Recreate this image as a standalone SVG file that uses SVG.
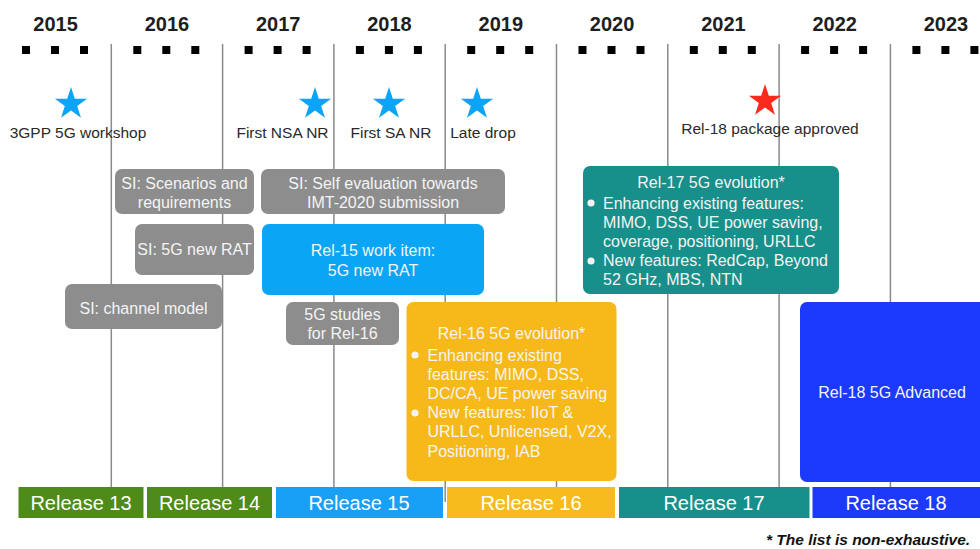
<svg xmlns="http://www.w3.org/2000/svg" xmlns:xlink="http://www.w3.org/1999/xlink" width="980" height="549" viewBox="0 0 980 549">
<style>
.yr{font-family:"Liberation Sans",Arial,sans-serif;font-weight:bold;font-size:20px;fill:#1e1e1e;text-anchor:middle}
.ms{font-family:"Liberation Sans",Arial,sans-serif;font-size:15.5px;fill:#2a2a2a;text-anchor:middle}
.bx{font-family:"Liberation Sans",Arial,sans-serif;font-size:16px;fill:#f4f4f4;text-anchor:middle}
.bl{font-family:"Liberation Sans",Arial,sans-serif;font-size:16px;fill:#f4f4f4}
.rl{font-family:"Liberation Sans",Arial,sans-serif;font-size:20px;fill:#ffffff;text-anchor:middle}
.fn{font-family:"Liberation Sans",Arial,sans-serif;font-size:15.5px;font-weight:bold;font-style:italic;fill:#111}
.vl{stroke:#8a8a8a;stroke-width:1.5}
.gray{fill:#8d8d8d}
.dot{fill:#000}
</style>
<defs>
<path id="star" d="M0,-17 L3.82,-5.26 L16.17,-5.25 L6.18,2.01 L9.99,13.75 L0,6.5 L-9.99,13.75 L-6.18,2.01 L-16.17,-5.25 L-3.82,-5.26 Z"/>
</defs>
<rect width="980" height="549" fill="#ffffff"/>

<g id="connectors">
<line class="vl" x1="111.3" y1="44" x2="111.3" y2="502"/>
<line class="vl" x1="222.6" y1="44" x2="222.6" y2="502"/>
<line class="vl" x1="333.9" y1="44" x2="333.9" y2="502"/>
<line class="vl" x1="445.2" y1="44" x2="445.2" y2="502"/>
<line class="vl" x1="556.5" y1="44" x2="556.5" y2="502"/>
<line class="vl" x1="667.8" y1="44" x2="667.8" y2="502"/>
<line class="vl" x1="779.1" y1="44" x2="779.1" y2="502"/>
<line class="vl" x1="890.4" y1="44" x2="890.4" y2="502"/>
</g>

<g id="years">
<text class="yr" x="55.6" y="31">2015</text>
<text class="yr" x="166.9" y="31">2016</text>
<text class="yr" x="278.2" y="31">2017</text>
<text class="yr" x="389.5" y="31">2018</text>
<text class="yr" x="500.8" y="31">2019</text>
<text class="yr" x="612.1" y="31">2020</text>
<text class="yr" x="723.4" y="31">2021</text>
<text class="yr" x="834.7" y="31">2022</text>
<text class="yr" x="946" y="31">2023</text>
</g>

<g id="quarters">
<rect class="dot" x="22" y="46" width="8" height="8"/><rect class="dot" x="51" y="46" width="8" height="8"/><rect class="dot" x="80" y="46" width="8" height="8"/>
<rect class="dot" x="133.3" y="46" width="8" height="8"/><rect class="dot" x="162.3" y="46" width="8" height="8"/><rect class="dot" x="191.3" y="46" width="8" height="8"/>
<rect class="dot" x="244.6" y="46" width="8" height="8"/><rect class="dot" x="273.6" y="46" width="8" height="8"/><rect class="dot" x="302.6" y="46" width="8" height="8"/>
<rect class="dot" x="355.9" y="46" width="8" height="8"/><rect class="dot" x="384.9" y="46" width="8" height="8"/><rect class="dot" x="413.9" y="46" width="8" height="8"/>
<rect class="dot" x="467.2" y="46" width="8" height="8"/><rect class="dot" x="496.2" y="46" width="8" height="8"/><rect class="dot" x="525.2" y="46" width="8" height="8"/>
<rect class="dot" x="578.5" y="46" width="8" height="8"/><rect class="dot" x="607.5" y="46" width="8" height="8"/><rect class="dot" x="636.5" y="46" width="8" height="8"/>
<rect class="dot" x="689.8" y="46" width="8" height="8"/><rect class="dot" x="718.8" y="46" width="8" height="8"/><rect class="dot" x="747.8" y="46" width="8" height="8"/>
<rect class="dot" x="801.1" y="46" width="8" height="8"/><rect class="dot" x="830.1" y="46" width="8" height="8"/><rect class="dot" x="859.1" y="46" width="8" height="8"/>
<rect class="dot" x="912.4" y="46" width="8" height="8"/><rect class="dot" x="941.4" y="46" width="8" height="8"/><rect class="dot" x="970.4" y="46" width="8" height="8"/>
</g>

<g id="milestone-workshop">
<use xlink:href="#star" href="#star" transform="translate(71,104)" fill="#0ba4f6"/>
<text class="ms" x="78" y="138">3GPP 5G workshop</text>
</g>
<g id="milestone-nsa">
<use xlink:href="#star" href="#star" transform="translate(315,104)" fill="#0ba4f6"/>
<text class="ms" x="282.5" y="138">First NSA NR</text>
</g>
<g id="milestone-sa">
<use xlink:href="#star" href="#star" transform="translate(389,104)" fill="#0ba4f6"/>
<text class="ms" x="391" y="138">First SA NR</text>
</g>
<g id="milestone-late">
<use xlink:href="#star" href="#star" transform="translate(477,104)" fill="#0ba4f6"/>
<text class="ms" x="483" y="138">Late drop</text>
</g>
<g id="milestone-rel18">
<use xlink:href="#star" href="#star" transform="translate(765,101)" fill="#fa2a1c"/>
<text class="ms" x="770" y="134">Rel-18 package approved</text>
</g>

<g id="si-scenarios">
<rect class="gray" x="115" y="169" width="139" height="45" rx="7"/>
<text class="bx" x="184.5" y="188.5">SI: Scenarios and</text>
<text class="bx" x="184.5" y="207.5">requirements</text>
</g>
<g id="si-self-eval">
<rect class="gray" x="261" y="169" width="244" height="45" rx="7"/>
<text class="bx" x="383" y="188.5">SI: Self evaluation towards</text>
<text class="bx" x="383" y="207.5">IMT-2020 submission</text>
</g>
<g id="si-new-rat">
<rect class="gray" x="135" y="224" width="119" height="51" rx="7"/>
<text class="bx" x="194.5" y="255">SI: 5G new RAT</text>
</g>
<g id="rel15-wi">
<rect x="262" y="224" width="222" height="71" rx="7" fill="#0ba5f5"/>
<text class="bx" x="373" y="256">Rel-15 work item:</text>
<text class="bx" x="373" y="276">5G new RAT</text>
</g>
<g id="si-channel">
<rect class="gray" x="65" y="284" width="157" height="45" rx="7"/>
<text class="bx" x="143.5" y="313.5">SI: channel model</text>
</g>
<g id="studies-rel16">
<rect class="gray" x="286" y="302" width="113" height="43" rx="7"/>
<text class="bx" x="342.5" y="319.5">5G studies</text>
<text class="bx" x="342.5" y="338.5">for Rel-16</text>
</g>
<g id="rel16-evo">
<rect x="406.5" y="302" width="210" height="179" rx="7" fill="#f7b91a"/>
<text class="bx" x="511.5" y="338.5">Rel-16 5G evolution*</text>
<circle cx="415" cy="355" r="3.6" fill="#f4f4f4"/>
<text class="bl" x="427.5" y="360.5">Enhancing existing</text>
<text class="bl" x="427.5" y="379.7">features: MIMO, DSS,</text>
<text class="bl" x="427.5" y="398.9">DC/CA, UE power saving</text>
<circle cx="415" cy="413" r="3.6" fill="#f4f4f4"/>
<text class="bl" x="427.5" y="418.1">New features: IIoT &amp;</text>
<text class="bl" x="427.5" y="437.3">URLLC, Unlicensed, V2X,</text>
<text class="bl" x="427.5" y="456.5">Positioning, IAB</text>
</g>
<g id="rel17-evo">
<rect x="583" y="166" width="256" height="128" rx="7" fill="#178f8a"/>
<text class="bx" x="711" y="187.5">Rel-17 5G evolution*</text>
<circle cx="591" cy="203" r="3.6" fill="#f4f4f4"/>
<text class="bl" x="603" y="208.5">Enhancing existing features:</text>
<text class="bl" x="603" y="227.6">MIMO, DSS, UE power saving,</text>
<text class="bl" x="603" y="246.7">coverage, positioning, URLLC</text>
<circle cx="591" cy="261" r="3.6" fill="#f4f4f4"/>
<text class="bl" x="603" y="265.8">New features: RedCap, Beyond</text>
<text class="bl" x="603" y="284.9">52 GHz, MBS, NTN</text>
</g>
<g id="rel18-adv">
<rect x="800" y="302" width="190" height="180" rx="7" fill="#1b3afb"/>
<text class="bx" x="892" y="397.5">Rel-18 5G Advanced</text>
</g>

<g id="release13">
<rect x="18.5" y="487" width="125" height="31" fill="#4f8b18"/>
<text class="rl" x="81" y="510">Release 13</text>
</g>
<g id="release14">
<rect x="147" y="487" width="125" height="31" fill="#4f8b18"/>
<text class="rl" x="209.5" y="510">Release 14</text>
</g>
<g id="release15">
<rect x="276" y="487" width="167" height="31" fill="#18a0f6"/>
<text class="rl" x="359" y="510">Release 15</text>
</g>
<g id="release16">
<rect x="447" y="487" width="168" height="31" fill="#f8bb1d"/>
<text class="rl" x="531" y="510">Release 16</text>
</g>
<g id="release17">
<rect x="619" y="487" width="190.5" height="31" fill="#178f8a"/>
<text class="rl" x="714" y="510">Release 17</text>
</g>
<g id="release18">
<rect x="812.5" y="487" width="170" height="31" fill="#1d3afa"/>
<text class="rl" x="896" y="510">Release 18</text>
</g>

<text class="fn" x="766" y="545">* The list is non-exhaustive.</text>
</svg>
